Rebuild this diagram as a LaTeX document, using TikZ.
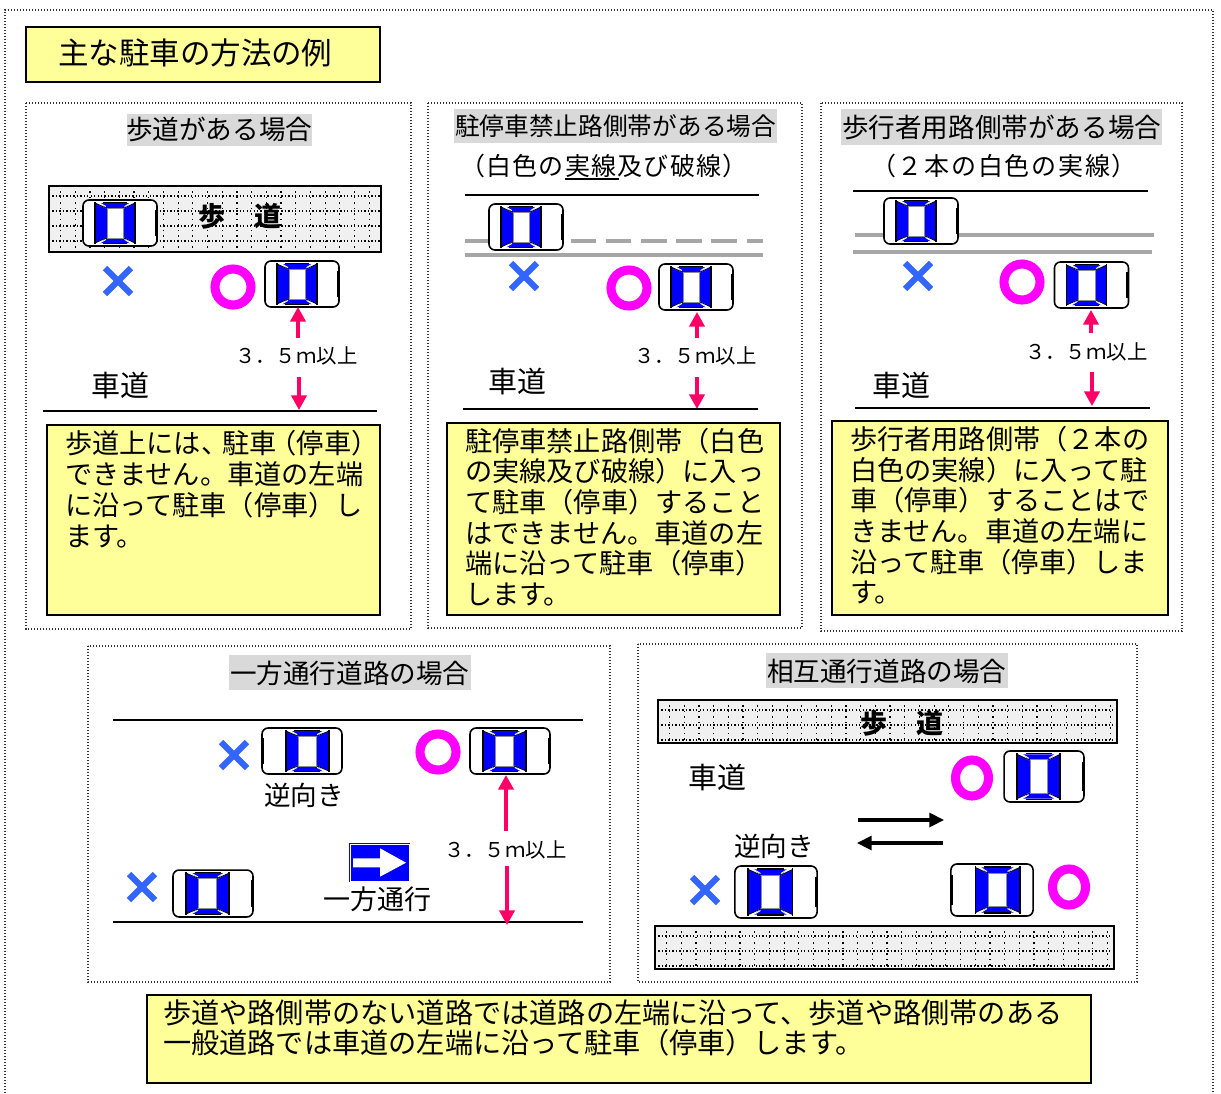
\documentclass[tikz,border=0pt]{standalone}
\usepackage{fontspec}
\setmainfont{Noto Sans CJK JP}
\usetikzlibrary{arrows.meta}
\definecolor{paleyellow}{HTML}{FFFF99}
\definecolor{headgray}{HTML}{D9D9D9}
\definecolor{crossblue}{HTML}{3366FF}
\definecolor{arrowpink}{HTML}{FF0066}
\definecolor{roadgray}{HTML}{A6A6A6}
\definecolor{walkfill}{HTML}{F0F0F0}
\definecolor{ringpink}{HTML}{FF00FF}
\newcommand\pxf[1]{\fontsize{\fpeval{#1*0.75}}{\fpeval{#1*0.9}}\selectfont}
\newcounter{txn}
\newcommand\tx[4][]{\stepcounter{txn}\node[txt,#1] (t\thetxn) at (#2,#3) {\rule[-0.12em]{0pt}{1em}#4};}
\newcommand\ls[1]{\addfontfeature{LetterSpace=#1}}
\newcommand\walk[4]{% x1 y1 x2 y2
  \fill[walkfill] (#1,#2) rectangle (#3,#4);
  \begin{scope}
    \clip (#1,#2) rectangle (#3,#4);
    \foreach \gx in {0,...,32} {\draw[griddotv] ({#1+11.5+14.7*\gx},#2) -- ({#1+11.5+14.7*\gx},#4);}
    \foreach \gy in {0,...,4} {\draw[griddoth] (#1,{#2+10+15*\gy}) -- (#3,{#2+10+15*\gy});}
  \end{scope}
  \draw[boxline] (#1,#2) rectangle (#3,#4);
}
\newcommand\ring[4]{\draw[ringstyle] (#1,#2) ellipse [x radius=#3, y radius=#4];}
\newcommand\cross[2]{\draw[crossstyle] (#1-13,#2-13) -- (#1+13,#2+13); \draw[crossstyle] (#1-13,#2+13) -- (#1+13,#2-13);}
\tikzset{
  txt/.style={inner sep=0pt,outer sep=0pt,anchor=west,font=\pxf{27.2},black},
  griddoth/.style={black,line width=0.9pt,dash pattern=on 1pt off 1.6pt},
  griddotv/.style={black,line width=0.9pt,dash pattern=on 1.1pt off 3pt},
  panel/.style={black!80,line width=0.8pt,dash pattern=on 1.1pt off 1.15pt},
  boxline/.style={black,line width=1.4pt},
  yellowbox/.style={fill=paleyellow,draw=black,line width=1.5pt},
  headbox/.style={fill=headgray},
  road/.style={black,line width=2.2pt},
  grayroad/.style={roadgray,line width=2.6pt},
  ringstyle/.style={draw=ringpink,line width=6.8pt},
  crossstyle/.style={crossblue,line width=4.6pt},
  pinkarrow/.style={arrowpink,line width=2.3pt,-{Triangle[length=11pt,width=11.5pt]}},
  blackarrow/.style={black,line width=2.3pt,-{Triangle[length=11pt,width=10.5pt]}},
  car/.pic={
    \draw[fill=white,draw=black,line width=1.2pt,rounded corners=4.5pt] (-37,-23) rectangle (37,23);
    \draw[black,line width=1.6pt] (36,-13) -- (36,13);
    \fill[blue] (-25,-20) -- (-13,-14) -- (-13,14) -- (-25,20) -- cycle;
    \fill[blue] (15,-20) -- (3.5,-14) -- (3.5,14) -- (15,20) -- cycle;
    \fill[blue] (-20,-20) -- (10,-20) -- (3.5,-14.5) -- (-13,-14.5) -- cycle;
    \fill[blue] (-20,20) -- (10,20) -- (3.5,14.5) -- (-13,14.5) -- cycle;
    \draw[black,line width=1.2pt] (-25,-21) -- (-25,21);
    \draw[black,line width=1.2pt] (15,-21) -- (15,21);
    \draw[black,line width=1.1pt] (-17,-20.5) -- (7,-20.5);
    \draw[black,line width=1.1pt] (-17,20.5) -- (7,20.5);
    \draw[white,line width=0.7pt] (-23,-21.6) -- (-14,-16.4);
    \draw[white,line width=0.7pt] (-23,21.6) -- (-14,16.4);
    \draw[white,line width=0.7pt] (13,-21.6) -- (4.5,-16.4);
    \draw[white,line width=0.7pt] (13,21.6) -- (4.5,16.4);
    \draw[black,line width=0.6pt] (-25,-20) -- (-13,-14.6);
    \draw[black,line width=0.6pt] (-25,20) -- (-13,14.6);
    \draw[black,line width=0.6pt] (15,-20) -- (3.5,-14.6);
    \draw[black,line width=0.6pt] (15,20) -- (3.5,14.6);
    \draw[fill=white,draw=black!45,line width=0.7pt] (-13,-15) rectangle (3.5,15);
  }
}
\begin{document}
\begin{tikzpicture}[x=0.75pt,y=-0.75pt]
\useasboundingbox (0,0) rectangle (1221,1093);
\fill[white] (0,0) rectangle (1221,1093);
% outer frame
\draw[panel] (5,1093) -- (5,10) -- (1213,10) -- (1213,1093);
% title
\draw[yellowbox] (26,27) rectangle (380,82);
\tx[font=\pxf{30.5}]{58}{53}{主な駐車の方法の例}
% panels
\draw[panel] (26,103) rectangle (411,629);
\draw[panel] (428,103) rectangle (802,628);
\draw[panel] (821,103) rectangle (1182,631);
\draw[panel] (88,646) rectangle (610,982);
\draw[panel] (638,644) rectangle (1137,982);
% headings
\fill[headbox] (127,114) rectangle (312,146);
\tx[font=\pxf{26.6}]{126}{129}{歩道がある場合}
\fill[headbox] (454,109) rectangle (777,143);
\tx[font=\pxf{24.7}]{455}{126}{駐停車禁止路側帯がある場合}
\tx[font=\pxf{25}\ls{5}]{460}{166}{（白色の実線及び破線）}
\draw[black,line width=1.6pt] (565,179) -- (619,179);
\fill[headbox] (841,109) rectangle (1162,145);
\tx[font=\pxf{26.6}]{842}{127}{歩行者用路側帯がある場合}
\tx[font=\pxf{25}\ls{7}]{871}{166}{（２本の白色の実線）}
\fill[headbox] (229,655) rectangle (471,690);
\tx[font=\pxf{26.6}]{230}{673}{一方通行道路の場合}
\fill[headbox] (766,653) rectangle (1008,688);
\tx[font=\pxf{26.6}]{767}{671}{相互通行道路の場合}
% panel 1 scene
\walk{49}{186}{381}{252}
\tx[font=\pxf{27}\bfseries]{198}{216}{歩}
\tx[font=\pxf{27}\bfseries]{254}{216}{道}
\pic at (120,223) {car};
\pic at (302,284) {car};
\cross{118}{281}
\ring{233}{287}{18}{18}
\coordinate (p1up) at (298,307); \coordinate (p1upb) at (298,338);
\coordinate (p1dn) at (299,410); \coordinate (p1dnb) at (299,377);
\draw[pinkarrow] (p1upb) -- (p1up);
\draw[pinkarrow] (p1dnb) -- (p1dn);
\tx[font=\pxf{20.4}]{235}{356}{３．５ｍ以上}
\tx[font=\pxf{29}]{91}{385}{車道}
\coordinate (p1la) at (43,411); \coordinate (p1lb) at (377,411);
\draw[road] (p1la) -- (p1lb);
\draw[yellowbox] (47,425) rectangle (380,615);
\tx{65}{443}{歩道上には、\kern-4.5pt 駐車\kern-5.25pt （停車）}
\tx{65}{474}{できません。車道の左端}
\tx{65}{505}{に沿って駐車（停車）し}
\tx{65}{536}{ます。}
% panel 2 scene
\coordinate (p2ta) at (465,195); \coordinate (p2tb) at (759,195);
\draw[road] (p2ta) -- (p2tb);
\draw[grayroad] (465,241) -- (490,241);
\foreach \a/\b in {570.7/596,606/631,641/667,676/702,711/737,747/763} {\draw[grayroad] (\a,241) -- (\b,241);}
\draw[grayroad] (465,255) -- (763,255);
\pic at (526,227) {car};
\pic at (696,287) {car};
\cross{524}{276}
\ring{629}{288}{18}{18}
\coordinate (p2up) at (697,312); \coordinate (p2upb) at (697,338);
\coordinate (p2dn) at (697,409); \coordinate (p2dnb) at (697,377);
\draw[pinkarrow] (p2upb) -- (p2up);
\draw[pinkarrow] (p2dnb) -- (p2dn);
\tx[font=\pxf{20.4}]{634}{356}{３．５ｍ以上}
\tx[font=\pxf{29}]{488}{381}{車道}
\coordinate (p2la) at (463,409); \coordinate (p2lb) at (758,409);
\draw[road] (p2la) -- (p2lb);
\draw[yellowbox] (447,423) rectangle (780,615);
\tx{465}{441}{駐停車禁止路側帯（白色}
\tx{465}{471}{の実線及び破線）に入っ}
\tx{465}{502}{て駐車（停車）すること}
\tx{465}{533}{はできません。車道の左}
\tx{465}{563}{端に沿って駐車（停車）}
\tx{465}{594}{します。}
% panel 3 scene
\coordinate (p3ta) at (853,191); \coordinate (p3tb) at (1148,191);
\draw[road] (p3ta) -- (p3tb);
\draw[grayroad] (855,235) -- (1154,235);
\draw[grayroad] (853,252) -- (1152,252);
\pic at (921,221) {car};
\pic at (1091.5,285) {car};
\cross{918}{276}
\ring{1022}{282}{18}{18}
\coordinate (p3up) at (1091,310); \coordinate (p3upb) at (1091,333);
\coordinate (p3dn) at (1092,406); \coordinate (p3dnb) at (1092,372);
\draw[pinkarrow] (p3upb) -- (p3up);
\draw[pinkarrow] (p3dnb) -- (p3dn);
\tx[font=\pxf{20.4}]{1025}{352}{３．５ｍ以上}
\tx[font=\pxf{29}]{872}{385}{車道}
\coordinate (p3la) at (855,408); \coordinate (p3lb) at (1150,408);
\draw[road] (p3la) -- (p3lb);
\draw[yellowbox] (832,421) rectangle (1168,615);
\tx{850}{439}{歩行者用路側帯（２本の}
\tx{850}{470}{白色の実線）に入って駐}
\tx{850}{500}{車（停車）することはで}
\tx{850}{531}{きません。車道の左端に}
\tx{850}{562}{沿って駐車（停車）しま}
\tx{850}{592}{す。}
% panel 4 scene
\coordinate (p4ta) at (113,720); \coordinate (p4tb) at (583,720);
\draw[road] (p4ta) -- (p4tb);
\coordinate (p4la) at (113,922); \coordinate (p4lb) at (583,922);
\draw[road] (p4la) -- (p4lb);
\pic[xscale=-1.08] at (302,751) {car};
\pic[xscale=1.08] at (510,751) {car};
\pic[xscale=1.08,yscale=1.02] at (213,893.5) {car};
\cross{234}{755}
\cross{142}{887}
\ring{438}{752}{18}{18}
\tx[font=\pxf{26.6}]{264}{795}{逆向き}
\coordinate (p4up) at (506,775); \coordinate (p4upb) at (506,831);
\coordinate (p4dn) at (507,925); \coordinate (p4dnb) at (507,866);
\draw[pinkarrow] (p4upb) -- (p4up);
\draw[pinkarrow] (p4dnb) -- (p4dn);
\tx[font=\pxf{20.4}]{444}{850}{３．５ｍ以上}
\fill[blue] (349,843) rectangle (410,882);
\draw[white,line width=0.4pt] (350,844) rectangle (409,881);
\fill[white] (353,858.3) -- (380,858.3) -- (380,848.3) -- (406,862.7) -- (380,876.7) -- (380,867.3) -- (353,867.3) -- cycle;
\tx[font=\pxf{27}]{323}{899}{一方通行}
% panel 5 scene
\walk{658}{700}{1117}{743}
\tx[font=\pxf{27}\bfseries]{860}{723}{歩}
\tx[font=\pxf{27}\bfseries]{916}{723}{道}
\tx[font=\pxf{29}]{688}{777}{車道}
\pic[xscale=1.08,yscale=1.11] at (1044,776.5) {car};
\ring{972}{778}{16.5}{18}
\coordinate (p5ra) at (858,820); \coordinate (p5rb) at (944,820);
\draw[blackarrow] (p5ra) -- (p5rb);
\coordinate (p5la) at (943,843); \coordinate (p5lb) at (857,843);
\draw[blackarrow] (p5la) -- (p5lb);
\tx[font=\pxf{26.6}]{734}{846}{逆向き}
\cross{705}{890}
\pic[xscale=1.11,yscale=1.13] at (776,892) {car};
\pic[xscale=-1.11,yscale=1.13] at (992,890) {car};
\ring{1069}{887}{16.5}{18}
\walk{655}{926}{1114}{969}
% bottom note
\draw[yellowbox] (147,995) rectangle (1091,1083);
\tx[font=\pxf{28.2}]{163}{1013}{歩道や路側帯のない道路では道路の左端に沿って、歩道や路側帯のある}
\tx[font=\pxf{28.2}]{163}{1043}{一般道路では車道の左端に沿って駐車（停車）します。}
\end{tikzpicture}
\end{document}
